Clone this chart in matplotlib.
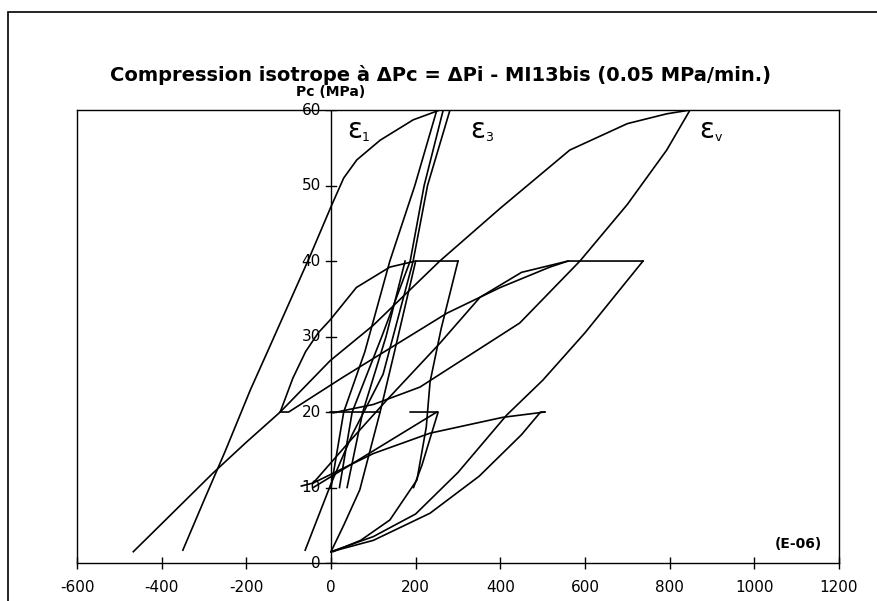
import numpy as np
import matplotlib.pyplot as plt
from matplotlib.patches import Rectangle

# strain (E-06) / Pc (MPa) traces
e1_x = [-350, -300, -250, -190, -150, -100, -50, 0, 30, 61, 116, 194, 257]
e1_y = [1.7, 8.3, 14.8, 23, 28, 34.3, 40.6, 47.2, 51, 53.4, 56, 58.7, 60]

e1_arch_x = [-120, -90, -60, -30, -2, 60, 139, 200, 300]
e1_arch_y = [20, 24.5, 28, 30.5, 32.2, 36.5, 39.2, 40, 40]

e1_load_x = [0, 30, 68, 116, -2]
e1_load_y = [1.5, 5, 9.7, 20, 20]

ev_end_x = [-467, -400, -279, -200, -120, -2, 100, 257, 400, 564, 700, 793, 848]
ev_end_y = [1.5, 5.2, 11.9, 16, 20, 26.8, 31.5, 40, 47, 54.7, 58.2, 59.5, 60]

ev_load_x = [0, 100, 234, 350, 450, 495, 505]
ev_load_y = [1.5, 3, 6.6, 11.5, 17, 20, 20]

ev_unl_x = [505, 406, 234, 100, -42, -70]
ev_unl_y = [20, 19.3, 17.2, 14.5, 10.6, 10.2]

ev_rel_x = [-42, 50, 132, 257, 352, 450, 560]
ev_rel_y = [10.6, 16.5, 21.6, 29.1, 35.2, 38.5, 40]

ev_rel2_x = [-120, -100, 28, 274, 400, 517, 560, 737]
ev_rel2_y = [20, 20, 24.6, 33.1, 36.5, 39.2, 40, 40]

ev_drop_x = [737, 600, 500, 415, 300, 200, 100, 0]
ev_drop_y = [40, 30.5, 24.2, 19.6, 12, 6.5, 3.5, 1.5]

ev_top_x = [5, 100, 210, 446, 588, 700, 793, 848]
ev_top_y = [19.9, 21, 23.3, 31.8, 40, 47.5, 54.7, 60]

e3_drop_x = [300, 260, 234, 225, 203, 139, 70, 5]
e3_drop_y = [40, 31, 24, 18, 11, 5.7, 3, 1.5]

e3_step_x = [187, 253, 215, 195]
e3_step_y = [20, 20, 13, 10]

# steep epsilon-3 bundle
e3_a_x = [0, 30, 80, 139, 198, 250]
e3_a_y = [10, 20, 28, 40, 50, 60]

e3_b_x = [20, 50, 120, 187, 220, 265]
e3_b_y = [10, 20, 30, 40, 50, 60]

e3_c_x = [-61, 0, 50, 123, 194, 228, 281]
e3_c_y = [1.7, 10.5, 17, 25, 40, 50, 60]

e3_d_x = [38, 75, 130, 175]
e3_d_y = [10, 20, 30, 40]

e3_e_x = [116, 150, 200]
e3_e_y = [20, 28, 40]

lo_x = [-42, 250]
lo_y = [10, 20]

curves = [(e1_x, e1_y), (e1_arch_x, e1_arch_y), (e1_load_x, e1_load_y), (ev_end_x, ev_end_y),
          (ev_load_x, ev_load_y), (ev_unl_x, ev_unl_y), (ev_rel_x, ev_rel_y), (ev_rel2_x, ev_rel2_y),
          (ev_drop_x, ev_drop_y), (ev_top_x, ev_top_y), (e3_drop_x, e3_drop_y), (e3_step_x, e3_step_y),
          (e3_a_x, e3_a_y), (e3_b_x, e3_b_y), (e3_c_x, e3_c_y), (e3_d_x, e3_d_y), (e3_e_x, e3_e_y),
          (lo_x, lo_y)]

x_ticks = list(range(-600, 1201, 200))
y_ticks = list(range(0, 61, 10))

fig = plt.figure(figsize=(8.77, 6.01), dpi=100)
ax = fig.add_axes([0.0878, 0.0632, 0.8689, 0.7537])

for cx, cy in curves:
    ax.plot(cx, cy, color="black", lw=1.2)

ax.set_xlim(-600, 1200)
ax.set_ylim(0, 60)
ax.set_xticks(x_ticks)
ax.set_xticklabels([str(t) for t in x_ticks], fontsize=11)
ax.tick_params(axis="x", direction="inout", length=9, width=1, pad=8)
ax.set_yticks([])
for s in ax.spines.values():
    s.set_linewidth(1)

# vertical axis through zero with its own ticks
ax.axvline(0, color="black", lw=1)
for t in y_ticks:
    ax.plot([-12, 12], [t, t], color="black", lw=1)
    ax.text(-24, t, str(t), ha="right", va="center", fontsize=11)

ax.text(0, 61.5, "Pc (MPa)", ha="center", va="bottom", fontsize=10, fontweight="bold")
ax.text(1160, 2.5, "(E-06)", ha="right", va="center", fontsize=10, fontweight="bold")

for lx, sx, sub in [(38, 72, "1"), (328, 364, "3"), (871, 907, "v")]:
    ax.text(lx, 57.3, "ε", fontsize=20, va="center")
    ax.text(sx, 56.4, sub, fontsize=9, va="center")

fig.text(0.502, 0.875, "Compression isotrope à ΔPc = ΔPi - MI13bis (0.05 MPa/min.)",
         ha="center", va="center", fontsize=14, fontweight="bold")

# frame around the whole picture (right and bottom edges fall outside)
fig.patches.append(Rectangle((8 / 877, -0.05), 1.05, 1.05 - 12 / 601,
                             transform=fig.transFigure, fill=False, lw=1.2, color="black"))

fig.savefig("out.png", dpi=100)
